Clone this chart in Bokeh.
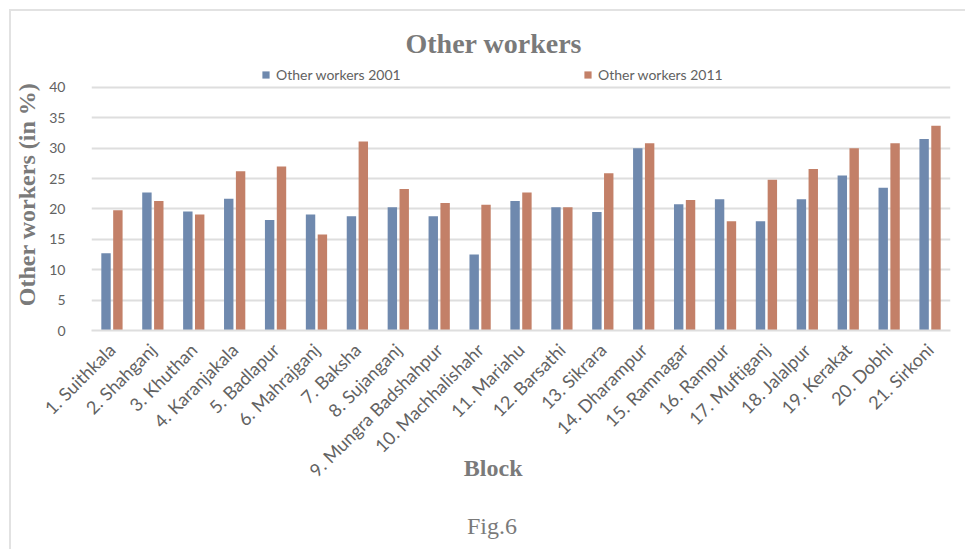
from math import pi

from bokeh.embed import file_html
from bokeh.models import (ColumnDataSource, FixedTicker, Label, Legend,
                          LegendItem, Range1d, Title)
from bokeh.plotting import figure
from bokeh.resources import INLINE
from bokeh.transform import dodge

# Share of "other workers" in each block (percent)
blocks = [
    "1. Suithkala", "2. Shahganj", "3. Khuthan", "4. Karanjakala",
    "5. Badlapur", "6. Mahrajganj", "7. Baksha", "8. Sujanganj",
    "9. Mungra Badshahpur", "10. Machhalishahr", "11. Mariahu",
    "12. Barsathi", "13. Sikrara", "14. Dharampur", "15. Ramnagar",
    "16. Rampur", "17. Muftiganj", "18. Jalalpur", "19. Kerakat",
    "20. Dobhi", "21. Sirkoni",
]
workers_2001 = [12.7, 22.7, 19.6, 21.7, 18.2, 19.1, 18.8, 20.3, 18.8, 12.5,
                21.3, 20.3, 19.5, 30.0, 20.8, 21.6, 18.0, 21.6, 25.5, 23.5,
                31.5]
workers_2011 = [19.8, 21.3, 19.1, 26.2, 27.0, 15.8, 31.1, 23.3, 21.0, 20.7,
                22.7, 20.3, 25.9, 30.8, 21.5, 18.0, 24.8, 26.6, 30.0, 30.8,
                33.7]
y_ticks = [0, 5, 10, 15, 20, 25, 30, 35, 40]
series_names = ["Other workers 2001", "Other workers 2011"]

BLUE = "#6f89ae"
ORANGE = "#c38068"
GREY_TEXT = "#626262"
GREY_TITLE = "#7a7a7a"
GRID = "#dedede"

positions = list(range(1, len(blocks) + 1))
source = ColumnDataSource(dict(x=positions, y2001=workers_2001, y2011=workers_2011))

# The value axis stops at 40; the headroom above it holds the legend
p = figure(
    width=956, height=540,
    x_range=Range1d(0.5, len(blocks) + 0.5),
    y_range=Range1d(0, 44.77),
    output_backend="svg", toolbar_location=None,
    min_border_left=74, min_border_right=17,
    min_border_top=47, min_border_bottom=221,
    margin=(9, 0, 0, 9),
    styles={"border-top": "2px solid #e2e2e2", "border-left": "2px solid #e2e2e2"},
)
p.outline_line_color = None
p.background_fill_color = "white"
p.border_fill_color = "white"

r1 = p.vbar(x=dodge("x", -0.145, range=p.x_range), top="y2001", width=0.23,
            source=source, fill_color=BLUE, line_color=None)
r2 = p.vbar(x=dodge("x", 0.145, range=p.x_range), top="y2011", width=0.23,
            source=source, fill_color=ORANGE, line_color=None)

# Axes
p.xaxis.ticker = FixedTicker(ticks=positions)
p.xaxis.major_label_overrides = {i: name for i, name in zip(positions, blocks)}
p.xaxis.major_label_orientation = pi / 4
p.xaxis.major_label_text_font = "Lato"
p.xaxis.major_label_text_font_size = "18px"
p.xaxis.major_label_text_color = GREY_TEXT
p.xaxis.major_label_standoff = 10
p.xaxis.axis_line_color = GRID
p.xaxis.axis_line_width = 2
p.xaxis.major_tick_line_color = None
p.xaxis.minor_tick_line_color = None

p.yaxis.ticker = FixedTicker(ticks=y_ticks)
p.yaxis.major_label_text_font = "Lato"
p.yaxis.major_label_text_font_size = "14px"
p.yaxis.major_label_text_color = GREY_TEXT
p.yaxis.major_label_standoff = 20
p.yaxis.axis_line_color = None
p.yaxis.major_tick_line_color = None
p.yaxis.minor_tick_line_color = None
p.yaxis.axis_label = "Other workers (in %)"
p.yaxis.axis_label_text_font = "Liberation Serif"
p.yaxis.axis_label_text_font_style = "bold"
p.yaxis.axis_label_text_font_size = "24px"
p.yaxis.axis_label_text_color = GREY_TITLE
p.yaxis.axis_label_standoff = 6

p.xgrid.grid_line_color = None
p.ygrid.grid_line_color = GRID
p.ygrid.grid_line_width = 2

# One legend block per series, side by side in the headroom
for renderer, name, x_px in [(r1, series_names[0], 170), (r2, series_names[1], 492)]:
    legend = Legend(
        items=[LegendItem(label=name, renderers=[renderer])],
        location=(x_px, 247), orientation="horizontal",
        border_line_color=None, background_fill_alpha=0,
        padding=0, margin=0, spacing=0,
        glyph_width=9, glyph_height=9, label_standoff=6,
        label_text_font="Lato", label_text_font_size="14px",
        label_text_color=GREY_TEXT, label_height=16,
    )
    p.add_layout(legend)

p.add_layout(Title(text="Other workers", text_font="Liberation Serif",
                   text_color=GREY_TITLE, text_font_size="28px",
                   text_font_style="bold", align="left", offset=314, standoff=0),
             "above")

# Axis caption and figure number sit under the rotated block names
serif = dict(text_font="Liberation Serif", text_color=GREY_TITLE,
             text_align="center", text_baseline="middle", text_font_size="24px")
p.add_layout(Label(x=10.32, y=-22.7, text="Block", text_font_style="bold", **serif),
             "below")
p.add_layout(Label(x=10.29, y=-32.1, text="Fig.6", **serif), "below")

open("out.html", "w").write(file_html(p, INLINE))
